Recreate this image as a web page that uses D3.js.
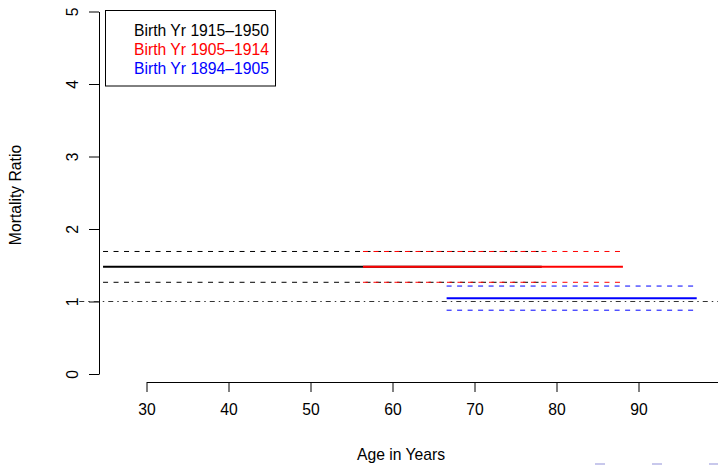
<!DOCTYPE html>
<html>
<head>
<meta charset="utf-8">
<script src="https://cdn.jsdelivr.net/npm/d3@7"></script>
<style>
  html, body { margin: 0; padding: 0; background: #fff; }
  svg { display: block; font-family: "Liberation Sans", Arial, Helvetica, sans-serif; }
</style>
</head>
<body>
<svg id="chart" width="718" height="465"></svg>
<script>
// Mortality ratio by age, one band per birth cohort
const cohorts = ["Birth Yr 1915\u20131950", "Birth Yr 1905\u20131914", "Birth Yr 1894\u20131905"];
const cohortColors = ["#000000", "#ff0000", "#0000ff"];
const ageFrom = [24.7, 56.4, 66.6];
const ageTo = [78.2, 88.1, 97.1];
const ratio = [1.48, 1.48, 1.045];
const ratioLower = [1.265, 1.265, 0.88];
const ratioUpper = [1.69, 1.69, 1.213];

const xTicks = [30, 40, 50, 60, 70, 80, 90];
const yTicks = [0, 1, 2, 3, 4, 5];
const referenceRatio = 1;

const fontSize = "15.7px";
const svg = d3.select("#chart");
const x = d3.scaleLinear().domain([30, 100]).range([146.5, 720.5]);
const y = d3.scaleLinear().domain([0, 5]).range([374, 11.5]);
const plotLeftAge = 21.8;

// axes
const xAxis = svg.append("g")
  .attr("transform", "translate(0,382)")
  .call(d3.axisBottom(x).tickValues(xTicks).tickSize(10).tickSizeOuter(0).tickPadding(12));
const yAxis = svg.append("g")
  .attr("transform", "translate(99,0)")
  .call(d3.axisLeft(y).tickValues(yTicks).tickSize(10).tickSizeOuter(0).tickFormat(d3.format("d")));

[xAxis, yAxis].forEach(g => {
  g.selectAll("path.domain").attr("stroke", "#000").attr("stroke-width", 1);
  g.selectAll(".tick line").attr("stroke", "#000");
  g.selectAll("text").attr("fill", "#000").style("font-size", fontSize)
    .style("font-family", "'Liberation Sans', Arial, sans-serif");
});
yAxis.selectAll(".tick text")
  .attr("transform", "rotate(-90)")
  .attr("x", 0)
  .attr("y", -21)
  .attr("dy", "0")
  .attr("text-anchor", "middle");

// reference line at ratio 1
svg.append("line")
  .attr("x1", x(plotLeftAge)).attr("x2", x(100))
  .attr("y1", y(referenceRatio)).attr("y2", y(referenceRatio))
  .attr("stroke", "#333").attr("stroke-width", 1)
  .attr("stroke-dasharray", "5,4,1.5,4");

// cohort estimates with confidence bounds
cohorts.forEach((name, i) => {
  const g = svg.append("g");
  [ratioUpper[i], ratioLower[i]].forEach(v => {
    g.append("line")
      .attr("x1", x(ageFrom[i])).attr("x2", x(ageTo[i]))
      .attr("y1", y(v)).attr("y2", y(v))
      .attr("stroke", cohortColors[i]).attr("stroke-width", 1)
      .attr("stroke-dasharray", "5,5.5");
  });
  g.append("line")
    .attr("x1", x(ageFrom[i])).attr("x2", x(ageTo[i]))
    .attr("y1", y(ratio[i])).attr("y2", y(ratio[i]))
    .attr("stroke", cohortColors[i]).attr("stroke-width", 2);
});

// legend
const legend = svg.append("g");
legend.append("rect")
  .attr("x", 105.5).attr("y", 10.5).attr("width", 170).attr("height", 75.5)
  .attr("fill", "#fff").attr("stroke", "#000").attr("stroke-width", 1);
cohorts.forEach((name, i) => {
  legend.append("text")
    .attr("x", 134).attr("y", 35.5 + i * 19)
    .attr("fill", cohortColors[i])
    .style("font-size", fontSize)
    .text(name);
});

// axis titles
svg.append("text")
  .attr("x", 401).attr("y", 460)
  .attr("text-anchor", "middle").style("font-size", fontSize)
  .text("Age in Years");
svg.append("text")
  .attr("transform", "translate(21,195) rotate(-90)")
  .attr("text-anchor", "middle").style("font-size", fontSize)
  .text("Mortality Ratio");

// faint dashed trace along the bottom edge
svg.append("line")
  .attr("x1", 595).attr("x2", 718).attr("y1", 464).attr("y2", 464)
  .attr("stroke", "#c8c8ec").attr("stroke-width", 2)
  .attr("stroke-dasharray", "10,47");
</script>
</body>
</html>
